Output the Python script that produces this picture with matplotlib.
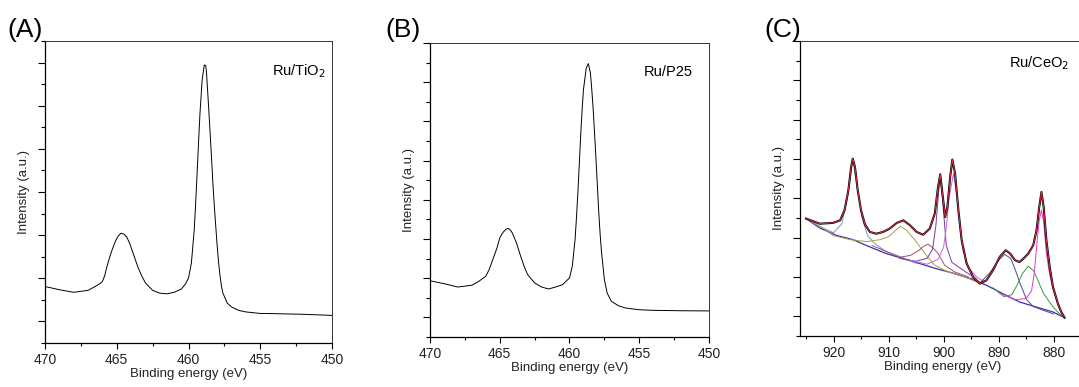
import numpy as np
import matplotlib.pyplot as plt
from matplotlib.ticker import MultipleLocator

plt.rcParams['font.family'] = ['Liberation Sans', 'DejaVu Sans']

# (A) Ru/TiO2 spectrum, binding energy (eV) and intensity (a.u.)
be_a = [470.0, 469.0, 468.0, 467.0, 466.5, 466.2, 466.0, 465.85, 465.7, 465.55,
        465.4, 465.25, 465.1, 464.9, 464.7, 464.5, 464.3, 464.1, 463.9, 463.7,
        463.5, 463.25, 463.0, 462.5, 462.0, 461.5, 461.0, 460.5, 460.2, 460.0,
        459.8, 459.6, 459.5, 459.4, 459.3, 459.2, 459.05, 458.9, 458.8, 458.75,
        458.6, 458.5, 458.4, 458.3, 458.2, 458.0, 457.9, 457.8, 457.7, 457.6,
        457.3, 457.0, 456.5, 456.0, 455.0, 454.0, 452.0, 450.0]
int_a = [2.62, 2.47, 2.35, 2.44, 2.62, 2.74, 2.85, 3.1, 3.5, 3.85,
         4.17, 4.45, 4.71, 4.96, 5.09, 5.05, 4.91, 4.62, 4.24, 3.85,
         3.47, 3.1, 2.78, 2.44, 2.31, 2.28, 2.35, 2.50, 2.75, 3.01,
         3.70, 5.25, 6.5, 7.87, 9.3, 10.65, 12.19, 12.89, 12.85, 12.58,
         10.96, 9.8, 8.64, 7.4, 6.33, 4.48, 3.7, 3.09, 2.62, 2.31,
         1.85, 1.67, 1.51, 1.44, 1.37, 1.36, 1.33, 1.28]

# (B) Ru/P25 spectrum
be_b = [470.0, 469.0, 468.0, 467.0, 466.5, 466.0, 465.75, 465.5, 465.2, 465.0,
        464.85, 464.7, 464.55, 464.4, 464.25, 464.1, 463.8, 463.5, 463.25, 463.0,
        462.5, 462.0, 461.5, 461.0, 460.5, 460.0, 459.8, 459.6, 459.5, 459.4,
        459.3, 459.2, 459.1, 459.0, 458.8, 458.65, 458.5, 458.4, 458.3, 458.2,
        458.1, 457.9, 457.8, 457.7, 457.5, 457.3, 457.0, 456.5, 456.0, 455.0,
        454.0, 452.0, 450.0]
int_b = [2.87, 2.72, 2.55, 2.64, 2.84, 3.10, 3.45, 3.95, 4.54, 5.05,
         5.25, 5.39, 5.5, 5.54, 5.47, 5.31, 4.80, 4.12, 3.6, 3.18,
         2.76, 2.55, 2.45, 2.55, 2.67, 3.01, 3.61, 4.97, 6.1, 7.35,
         8.8, 10.24, 11.55, 12.62, 13.72, 13.95, 13.47, 12.6, 11.60, 10.35,
         9.05, 6.33, 5.2, 4.29, 2.93, 2.24, 1.82, 1.60, 1.48, 1.39,
         1.36, 1.34, 1.33]

# (C) Ru/CeO2 spectrum with fitted components
be_c = [925.0, 922.5, 920.1, 918.8, 918.0, 917.3, 916.8, 916.5, 916.1, 915.6,
        915.0, 914.3, 913.4, 912.2, 911.0, 909.8, 908.5, 907.3, 906.1, 904.9,
        903.7, 902.5, 901.6, 901.0, 900.6, 900.2, 899.7, 899.3, 898.8, 898.4,
        897.9, 897.3, 896.7, 895.8, 894.6, 893.4, 892.2, 891.0, 889.8, 888.7,
        887.9, 887.0, 886.2, 885.5, 884.6, 883.7, 883.1, 882.6, 882.2, 881.8,
        881.3, 880.7, 880.1, 879.2, 878.6, 878.0]
int_c = [5.97, 5.71, 5.75, 5.88, 6.39, 7.41, 8.59, 9.02, 8.59, 7.41,
         6.39, 5.68, 5.29, 5.20, 5.29, 5.46, 5.75, 5.88, 5.63, 5.29,
         5.15, 5.46, 6.22, 7.58, 8.22, 7.24, 6.05, 6.56, 8.08, 8.97,
         8.25, 6.39, 4.86, 3.68, 3.00, 2.66, 2.83, 3.34, 4.02, 4.36,
         4.19, 3.85, 3.76, 3.93, 4.19, 4.61, 5.37, 6.56, 7.32, 6.56,
         4.86, 3.51, 2.49, 1.64, 1.22, 0.93]

bg_be = [925.0, 922.5, 919.5, 916.5, 913.4, 910.4, 907.3, 904.3, 901.3, 898.3,
         895.2, 892.2, 889.2, 886.2, 883.1, 880.1, 878.0]
bg_int = [5.97, 5.49, 5.12, 4.90, 4.53, 4.19, 3.93, 3.68, 3.42, 3.20,
          2.92, 2.58, 2.15, 1.73, 1.47, 1.22, 0.93]

comp_be = {
    'c1': [925.0, 922.0, 920.0, 918.5, 917.5, 916.5, 915.6, 914.8, 913.8, 912.5, 910.5, 908.0, 905.0],
    'c2': [925.0, 922.0, 920.0, 917.0, 914.0, 911.5, 910.0, 909.0, 907.9, 906.8, 905.2, 903.4, 901.6, 899.2, 896.1, 894.0],
    'c3': [913.0, 910.0, 908.0, 906.0, 904.5, 903.5, 902.8, 902.0, 901.0, 899.8, 898.0, 895.5],
    'c4': [908.0, 905.0, 903.0, 902.0, 901.4, 900.9, 900.6, 900.2, 899.5, 898.5, 896.1, 894.5],
    'c5': [906.0, 903.0, 901.0, 900.0, 899.5, 899.0, 898.2, 897.6, 897.0, 896.5, 895.5, 894.0, 892.5],
    'c6': [895.0, 893.4, 891.6, 890.0, 888.9, 887.8, 887.0, 886.1, 884.9, 883.7, 882.0, 880.0],
    'c7': [891.0, 889.0, 887.6, 886.6, 885.6, 884.6, 883.6, 882.8, 881.9, 880.8, 880.0, 879.0, 878.0],
    'c8': [890.0, 887.0, 885.0, 884.0, 883.5, 883.0, 882.6, 882.2, 881.8, 881.3, 880.7, 880.1, 879.2, 878.0],
}
comp_int = {
    'c1': [5.97, 5.5, 5.25, 5.7, 7.0, 9.0, 7.4, 6.0, 5.1, 4.7, 4.3, 4.05, 3.7],
    'c2': [5.97, 5.5, 5.1, 4.9, 4.8, 4.9, 5.05, 5.3, 5.58, 5.4, 4.87, 4.2, 3.6, 3.26, 3.0, 2.75],
    'c3': [4.6, 4.25, 4.0, 4.1, 4.35, 4.58, 4.67, 4.5, 4.2, 3.6, 3.26, 3.0],
    'c4': [3.95, 3.8, 3.95, 4.4, 5.6, 7.3, 8.1, 7.0, 4.6, 3.75, 3.28, 3.0],
    'c5': [3.85, 3.65, 3.9, 4.5, 5.5, 7.0, 8.26, 7.2, 5.5, 4.4, 3.5, 3.0, 2.75],
    'c6': [2.95, 2.7, 3.2, 3.85, 4.15, 3.95, 3.4, 2.68, 1.85, 1.5, 1.32, 1.12],
    'c7': [2.45, 2.0, 2.1, 2.6, 3.2, 3.55, 3.3, 2.8, 2.2, 1.75, 1.45, 1.15, 0.93],
    'c8': [2.2, 1.85, 1.9, 2.3, 3.2, 4.8, 5.9, 6.4, 5.8, 4.2, 3.1, 2.4, 1.6, 0.93],
}
comp_colors = {'c1': '#6a9cc0', 'c2': '#a6a24a', 'c3': '#a0506e', 'c4': '#7a3a9a',
               'c5': '#c466e0', 'c6': '#4a5088', 'c7': '#3c9a3c', 'c8': '#e03cc0'}


def style_axes(ax, xmajor, xminor, ylim):
    ax.set_ylim(ylim)
    ax.xaxis.set_major_locator(MultipleLocator(xmajor))
    ax.xaxis.set_minor_locator(MultipleLocator(xminor))
    ax.yaxis.set_major_locator(MultipleLocator(2, offset=1))
    ax.yaxis.set_minor_locator(MultipleLocator(1))
    ax.tick_params(axis='y', which='both', labelleft=False, direction='out')
    ax.tick_params(axis='y', which='major', length=5, width=0.8)
    ax.tick_params(axis='y', which='minor', length=3, width=0.8)
    ax.tick_params(axis='x', which='major', length=4, width=0.8, labelsize=10, pad=3,
                   labelcolor='#222222')
    ax.tick_params(axis='x', which='minor', length=2.5, width=0.8)
    for s in ['top', 'right']:
        ax.spines[s].set_linewidth(0.7)
        ax.spines[s].set_color('#333333')
    for s in ['left', 'bottom']:
        ax.spines[s].set_linewidth(0.9)
    ax.set_xlabel('Binding energy (eV)', fontsize=9.5, labelpad=1, color='#222222')
    ax.set_ylabel('Intensity (a.u.)', fontsize=9.5, labelpad=6, color='#222222')


fig = plt.figure(figsize=(10.79, 3.87), dpi=100)

ax1 = fig.add_axes([0.0417, 0.1137, 0.266, 0.7804])
ax1.plot(be_a, int_a, color='black', lw=0.7)
ax1.set_xlim(470, 450)
style_axes(ax1, 5, 2.5, (0, 14))
ax1.text(0.79, 0.9, 'Ru/TiO$_2$', transform=ax1.transAxes, fontsize=10.5, ha='left', va='center')
fig.text(0.007, 0.905, '(A)', fontsize=19)

ax2 = fig.add_axes([0.3985, 0.1292, 0.2586, 0.7597])
ax2.plot(be_b, int_b, color='black', lw=0.7)
ax2.set_xlim(470, 450)
style_axes(ax2, 5, 2.5, (0, 15))
ax2.text(0.765, 0.9, 'Ru/P25', transform=ax2.transAxes, fontsize=10.5, ha='left', va='center')
fig.text(0.357, 0.905, '(B)', fontsize=19)

ax3 = fig.add_axes([0.7414, 0.1318, 0.2651, 0.7623])
ax3.plot(bg_be, bg_int, color='#3a30b0', lw=0.9)
for k in comp_be:
    ax3.plot(comp_be[k], comp_int[k], color=comp_colors[k], lw=0.7)
ax3.plot(be_c, int_c, color='black', lw=1.5)
ax3.plot(be_c, int_c, color='#d8304a', lw=0.7)
ax3.set_xlim(926.1, 874.1)
style_axes(ax3, 10, 5, (0, 15))
ax3.text(0.73, 0.925, 'Ru/CeO$_2$', transform=ax3.transAxes, fontsize=10.5, ha='left', va='center')
fig.text(0.708, 0.905, '(C)', fontsize=19)

fig.savefig('out.png', dpi=100)
